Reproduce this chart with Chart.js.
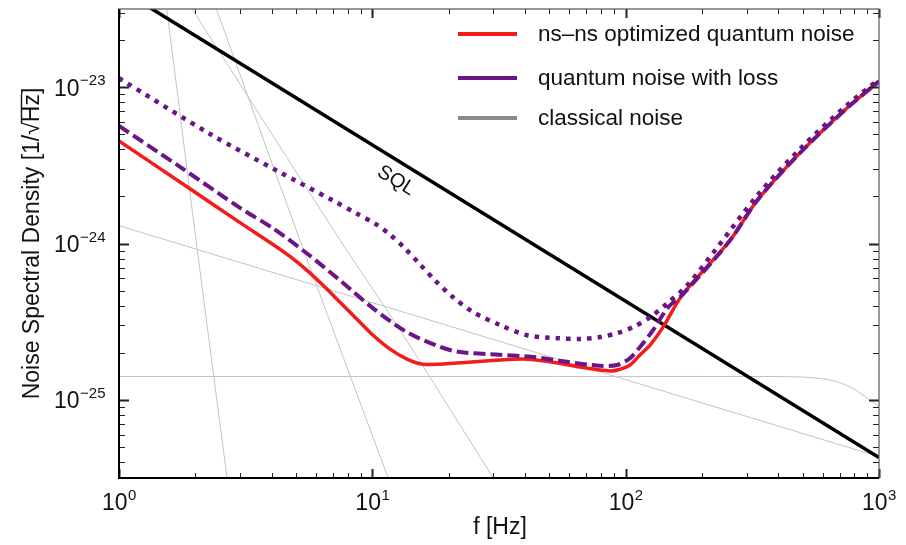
<!DOCTYPE html>
<html>
<head>
<meta charset="utf-8">
<script src="https://cdn.jsdelivr.net/npm/chart.js@4.4.0/dist/chart.umd.min.js"></script>
<style>
  html, body { margin: 0; padding: 0; background: #fff; }
</style>
</head>
<body>
<canvas id="c" width="906" height="545"></canvas>
<script>
// frequencies in Hz, noise in 1/sqrt(Hz)
const redF = [1, 1.906, 3.004, 4.055, 4.73, 5.524, 6.39, 7.457, 8.70, 10.07, 11.75, 13.71, 15.86, 21.6, 31.9, 40.8, 50.3, 66.1, 86.8, 95.0, 104.1, 114, 124.8, 140.5, 167, 258, 330, 488, 748, 1000];
const redV = [4.53e-24, 2.24e-24, 1.36e-24, 9.86e-25, 8.26e-25, 6.73e-25, 5.40e-25, 4.21e-25, 3.28e-25, 2.59e-25, 2.11e-25, 1.82e-25, 1.69e-25, 1.72e-25, 1.80e-25, 1.82e-25, 1.75e-25, 1.62e-25, 1.53e-25, 1.57e-25, 1.67e-25, 1.94e-25, 2.24e-25, 2.92e-25, 4.67e-25, 1.045e-24, 1.88e-24, 3.80e-24, 7.35e-24, 1.09e-23];

const lossF = [1, 1.741, 3.004, 4.055, 5.524, 7.457, 10.07, 13.71, 18.51, 22.2, 31.9, 43.1, 58.7, 79.2, 92.5, 104.1, 114, 128.3, 147.1, 167, 258, 330, 488, 748, 1000];
const lossV = [5.65e-24, 3.09e-24, 1.69e-24, 1.25e-24, 8.63e-25, 5.81e-25, 3.85e-25, 2.71e-25, 2.18e-25, 2.02e-25, 1.94e-25, 1.88e-25, 1.75e-25, 1.65e-25, 1.67e-25, 1.85e-25, 2.18e-25, 2.79e-25, 3.91e-25, 4.67e-25, 1.045e-24, 1.88e-24, 3.80e-24, 7.35e-24, 1.09e-23];

const dotF = [1, 2.288, 4.206, 7.0, 8.7, 10.25, 11.75, 13.46, 15.43, 17.68, 20.83, 24.98, 31.9, 40.8, 53.6, 66.1, 79.2, 92.5, 107, 125, 146, 175, 230, 330, 488, 748, 1000];
const dotV = [1.14e-23, 5.02e-24, 2.92e-24, 1.88e-24, 1.55e-24, 1.34e-24, 1.14e-24, 9.29e-25, 7.35e-25, 5.81e-25, 4.53e-25, 3.64e-25, 3.01e-25, 2.59e-25, 2.48e-25, 2.45e-25, 2.52e-25, 2.67e-25, 2.92e-25, 3.38e-25, 4.15e-25, 5.40e-25, 9.44e-25, 2.02e-24, 4.03e-24, 7.68e-24, 1.12e-23];

const sqlF = [1, 1000];
const sqlV = [4.27e-23, 4.27e-26];

// classical noise components
const seisF = [1.5, 1.547, 2.014, 2.669, 2.8];
const seisV = [4.56e-23, 3.09e-23, 1.05e-24, 3.18e-26, 1.74e-26];
const gravF = [2.3, 2.437, 5.18, 11.53, 12.5];
const gravV = [4.0e-23, 3.09e-23, 1.05e-24, 3.18e-26, 2.23e-26];
const suspF = [1.8, 1.96, 7.46, 12.86, 29.96, 33];
const suspV = [3.83e-23, 3.09e-23, 1.05e-24, 2.79e-25, 3.18e-26, 2.5e-26];
const coatF = [1, 1000];
const coatV = [1.30e-24, 4.33e-26];
const flatF = [1, 300, 488, 641, 769, 881, 1000];
const flatV = [1.41e-25, 1.41e-25, 1.40e-25, 1.34e-25, 1.21e-25, 1.05e-25, 0.90e-25];

const xDecades = [0, 1, 2, 3];
const yDecades = [-25, -24, -23];
const legendLabels = ['ns\u2013ns optimized quantum noise', 'quantum noise with loss', 'classical noise'];
const sqlLabel = {f: 12.4, v: 2.52e-24, text: 'SQL'};

const RED = '#f41b1b';
const PURPLE = '#6c1587';
const GREY = '#c4c4c4';
const FONT = '"Liberation Sans", Arial, sans-serif';

const pts = (fs, vs) => fs.map((f, i) => ({x: f, y: vs[i]}));
const grey = (fs, vs) => ({data: pts(fs, vs), borderColor: GREY, borderWidth: 1, pointRadius: 0, tension: 0.3});

function drawPow(ctx, exp, x, y, align) {
  ctx.font = '23px ' + FONT;
  const wb = ctx.measureText('10').width;
  ctx.font = '15px ' + FONT;
  const e = String(exp).replace('-', '\u2212');
  const we = ctx.measureText(e).width;
  let sx = align === 'right' ? x - wb - we : x - (wb + we) / 2;
  ctx.textAlign = 'left';
  ctx.textBaseline = 'middle';
  ctx.font = '23px ' + FONT;
  ctx.fillText('10', sx, y);
  ctx.font = '15px ' + FONT;
  ctx.fillText(e, sx + wb + 0.5, y - 8);
}

const decor = {
  id: 'decor',
  afterDatasetsDraw(chart) {
    const {ctx, chartArea: a, scales: {x, y}} = chart;
    ctx.save();
    ctx.fillStyle = '#000';
    ctx.strokeStyle = '#222';

    // ticks, inward on all four sides
    for (let n = 0; n <= 3; n++) {
      for (let k = 1; k <= 9; k++) {
        const v = k * Math.pow(10, n);
        if (v > 1000) continue;
        const px = Math.round(x.getPixelForValue(v)) + 0.5;
        const len = k === 1 ? 9 : 5;
        ctx.lineWidth = k === 1 ? 2 : 1;
        ctx.beginPath();
        ctx.moveTo(px, a.bottom); ctx.lineTo(px, a.bottom - len);
        ctx.moveTo(px, a.top); ctx.lineTo(px, a.top + len);
        ctx.stroke();
      }
    }
    for (let n = -26; n <= -23; n++) {
      for (let k = 1; k <= 9; k++) {
        const v = k * Math.pow(10, n);
        if (v < y.min || v > y.max) continue;
        const py = Math.round(y.getPixelForValue(v)) + 0.5;
        const len = k === 1 ? 10 : 6;
        ctx.lineWidth = k === 1 ? 2 : 1;
        ctx.beginPath();
        ctx.moveTo(a.left, py); ctx.lineTo(a.left + len, py);
        ctx.moveTo(a.right, py); ctx.lineTo(a.right - len, py);
        ctx.stroke();
      }
    }

    // frame
    ctx.strokeStyle = '#555';
    ctx.lineWidth = 1.2;
    ctx.strokeRect(a.left, a.top, a.right - a.left, a.bottom - a.top);
    ctx.strokeStyle = '#000';
    ctx.lineWidth = 2;
    ctx.beginPath();
    ctx.moveTo(a.left, a.top); ctx.lineTo(a.left, a.bottom); ctx.lineTo(a.right, a.bottom);
    ctx.stroke();

    // tick labels
    ctx.fillStyle = '#111';
    xDecades.forEach(d => drawPow(ctx, d, x.getPixelForValue(Math.pow(10, d)), a.bottom + 26, 'center'));
    yDecades.forEach(d => drawPow(ctx, d, a.left - 14, y.getPixelForValue(Math.pow(10, d)) + 2, 'right'));

    // axis titles
    ctx.font = '23px ' + FONT;
    ctx.textAlign = 'center';
    ctx.textBaseline = 'middle';
    ctx.fillText('f [Hz]', (a.left + a.right) / 2 + 1, a.bottom + 50);

    ctx.save();
    ctx.translate(33, (a.top + a.bottom) / 2);
    ctx.rotate(-Math.PI / 2);
    const p1 = 'Noise Spectral Density [1/', p2 = '\u221A', p3 = 'Hz', p4 = ']';
    const w1 = ctx.measureText(p1).width, w2 = ctx.measureText(p2).width;
    const w3 = ctx.measureText(p3).width, w4 = ctx.measureText(p4).width;
    const sx = -(w1 + w2 + w3 + w4) / 2;
    ctx.textAlign = 'left';
    ctx.fillText(p1, sx, 0);
    ctx.fillText(p2, sx + w1, 0);
    ctx.fillText(p3, sx + w1 + w2, 0);
    ctx.fillText(p4, sx + w1 + w2 + w3, 0);
    ctx.strokeStyle = '#111';
    ctx.lineWidth = 1.4;
    ctx.beginPath();
    ctx.moveTo(sx + w1 + w2 - 1, -11.5);
    ctx.lineTo(sx + w1 + w2 + w3, -11.5);
    ctx.stroke();
    ctx.restore();

    // SQL label along the line
    const ang = Math.atan2(y.getPixelForValue(sqlV[1]) - y.getPixelForValue(sqlV[0]),
                           x.getPixelForValue(sqlF[1]) - x.getPixelForValue(sqlF[0]));
    ctx.save();
    ctx.translate(x.getPixelForValue(sqlLabel.f), y.getPixelForValue(sqlLabel.v));
    ctx.rotate(ang);
    ctx.font = '20px ' + FONT;
    ctx.textAlign = 'center';
    ctx.fillText(sqlLabel.text, 0, 0);
    ctx.restore();

    // legend
    const cols = [RED, PURPLE, '#8a8a8a'];
    const ly = [34, 78, 118];
    ctx.font = '22.5px ' + FONT;
    ctx.textAlign = 'left';
    legendLabels.forEach((t, i) => {
      ctx.strokeStyle = cols[i];
      ctx.lineWidth = 4;
      ctx.beginPath();
      ctx.moveTo(458, ly[i]); ctx.lineTo(517, ly[i]);
      ctx.stroke();
      ctx.fillStyle = '#111';
      ctx.fillText(t, 538, ly[i] + 1);
    });
    ctx.restore();
  }
};

new Chart(document.getElementById('c'), {
  type: 'line',
  data: {
    datasets: [
      {data: pts(lossF, lossV), borderColor: PURPLE, borderWidth: 4, borderDash: [12, 5], pointRadius: 0, tension: 0.3},
      {data: pts(dotF, dotV), borderColor: PURPLE, borderWidth: 4.5, borderDash: [4.5, 6], pointRadius: 0, tension: 0.3},
      {data: pts(redF, redV), borderColor: RED, borderWidth: 3.5, pointRadius: 0, tension: 0.3},
      {data: pts(sqlF, sqlV), borderColor: '#000', borderWidth: 3.5, pointRadius: 0},
      grey(seisF, seisV),
      grey(gravF, gravV),
      grey(suspF, suspV),
      grey(coatF, coatV),
      grey(flatF, flatV)
    ]
  },
  options: {
    responsive: false,
    animation: false,
    devicePixelRatio: 1,
    layout: {padding: {left: 119, right: 27, top: 9, bottom: 67}},
    plugins: {legend: {display: false}, tooltip: {enabled: false}},
    scales: {
      x: {type: 'logarithmic', min: 1, max: 1000, display: false},
      y: {type: 'logarithmic', min: Math.pow(10, -25.5), max: Math.pow(10, -22.5), display: false}
    }
  },
  plugins: [decor]
});
</script>
</body>
</html>
